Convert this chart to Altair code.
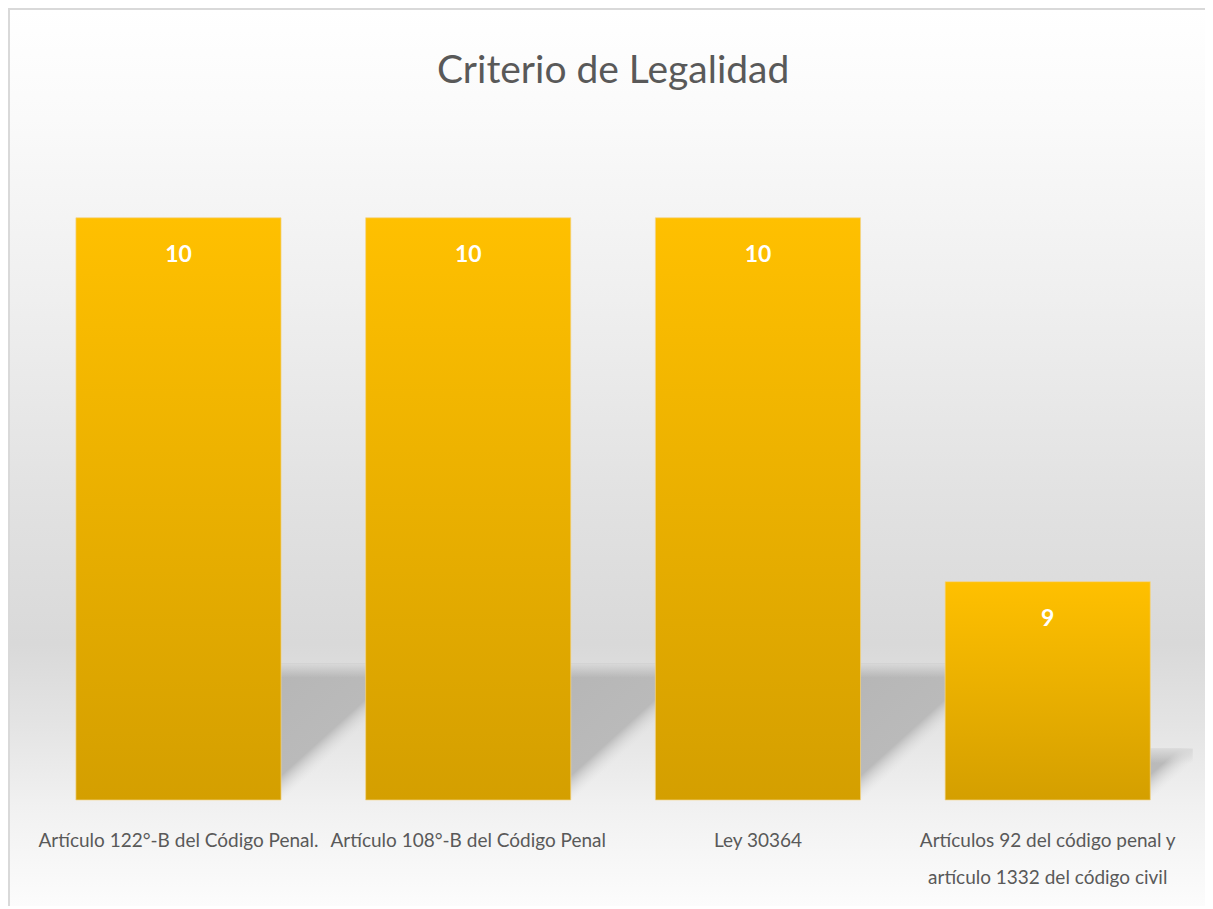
import altair as alt
import pandas as pd

categories = [
    "Artículo 122°-B del Código Penal.",
    "Artículo 108°-B del Código Penal",
    "Ley 30364",
    "Artículos 92 del código penal y\nartículo 1332 del código civil",
]
values = [10, 10, 10, 9]
title_text = "Criterio de Legalidad"

df = pd.DataFrame({"cat": categories, "value": values})

FONT = "Lato"
W, H = 1159, 655
PAD = {"left": 25.6, "top": 137, "right": 12, "bottom": 106}
YMIN, YMAX = 8.4, 10.2

x_enc = alt.X(
    "cat:N",
    sort=categories,
    scale=alt.Scale(paddingInner=0.292, paddingOuter=0.146),
    axis=alt.Axis(
        title=None, domain=False, ticks=False, grid=False, zindex=2,
        labelAngle=0, labelFont=FONT, labelFontSize=19, labelColor="#595959",
        labelPadding=32, labelLimit=500, labelOverlap=False,
        labelLineHeight=37,
        labelExpr="split(datum.label, '\\n')",
    ),
)
y_scale = alt.Scale(domain=[YMIN, YMAX], zero=False, clamp=True, nice=False)

# background gradient panel
bg = alt.Chart(df).mark_rect(
    color=alt.LinearGradient(
        gradient="linear", x1=0, y1=0, x2=0, y2=1,
        stops=[
            alt.GradientStop(offset=0.0, color="#ffffff"),
            alt.GradientStop(offset=0.12, color="#fafafa"),
            alt.GradientStop(offset=0.32, color="#efefef"),
            alt.GradientStop(offset=0.55, color="#e1e1e1"),
            alt.GradientStop(offset=0.70, color="#d9d9d9"),
            alt.GradientStop(offset=0.79, color="#e4e4e4"),
            alt.GradientStop(offset=0.88, color="#f1f1f1"),
            alt.GradientStop(offset=1.0, color="#fdfdfd"),
        ],
    ),
    stroke="#d9d9d9", strokeWidth=2,
).encode(
    x=alt.value(-PAD["left"] + 1), x2=alt.value(W + PAD["right"] + 10),
    y=alt.value(-PAD["top"] + 1), y2=alt.value(H + PAD["bottom"] + 10),
)

title = alt.Chart(df).transform_filter("datum.value == 10").transform_window(
    rn="row_number()"
).transform_filter("datum.rn == 1").mark_text(
    font=FONT, fontSize=39, color="#595959", baseline="middle", align="center",
).encode(
    x=alt.value(W / 2), y=alt.value(-74), text=alt.value(title_text),
)

def shadow(filter_expr, shift, gx2, gy2):
    base = alt.Chart(df).transform_filter(filter_expr).transform_calculate(
        base=str(YMIN),
        stop=f"{YMIN} + 0.235 * (datum.value - {YMIN})",
        fade=f"{YMIN} + 0.235 * (datum.value - {YMIN}) - 0.04",
    )
    body = base.mark_bar(
        clip=True, xOffset=shift,
        color=alt.LinearGradient(
            gradient="linear", x1=0, y1=0, x2=gx2, y2=gy2,
            stops=[
                alt.GradientStop(offset=0.0, color="#b4b4b4"),
                alt.GradientStop(offset=0.86, color="#bababa"),
                alt.GradientStop(offset=1.0, color="rgba(225,225,225,0)"),
            ],
        ),
    ).encode(
        x=x_enc,
        y=alt.Y("base:Q", scale=y_scale, axis=None),
        y2="stop:Q",
    )
    soft = base.mark_bar(
        clip=True, xOffset=shift,
        color=alt.LinearGradient(
            gradient="linear", x1=0, y1=0, x2=0, y2=1,
            stops=[
                alt.GradientStop(offset=0.0, color="rgba(218,218,218,1)"),
                alt.GradientStop(offset=1.0, color="rgba(218,218,218,0)"),
            ],
        ),
    ).encode(
        x=x_enc,
        y=alt.Y("stop:Q", scale=y_scale, axis=None),
        y2="fade:Q",
    )
    return alt.layer(body, soft)

sh_tall = shadow("datum.value >= 9.5", 153, 0.648, 0.478)
sh_short = shadow("datum.value < 9.5", 58, 0.926, 0.262)

bars = alt.Chart(df).mark_bar(
    color=alt.LinearGradient(
        gradient="linear", x1=0, y1=0, x2=0, y2=1,
        stops=[
            alt.GradientStop(offset=0.0, color="#ffc000"),
            alt.GradientStop(offset=1.0, color="#d49f00"),
        ],
    ),
    stroke="#f3d48a", strokeWidth=1, strokeOpacity=0.7,
).encode(
    x=x_enc,
    y=alt.Y("value:Q", scale=y_scale, axis=None),
)

labels = alt.Chart(df).mark_text(
    color="white", font=FONT, fontSize=23, fontWeight="bold",
    baseline="middle", dy=37,
).encode(
    x=x_enc,
    y=alt.Y("value:Q", scale=y_scale, axis=None),
    text=alt.Text("value:Q"),
)

chart = alt.layer(bg, sh_tall, sh_short, bars, labels, title).properties(
    width=W, height=H,
    padding=PAD,
    autosize=alt.AutoSizeParams(type="none"),
).configure_view(stroke=None).configure(background="white")

chart.save("out.html", embed_options={"renderer": "svg", "actions": False})
